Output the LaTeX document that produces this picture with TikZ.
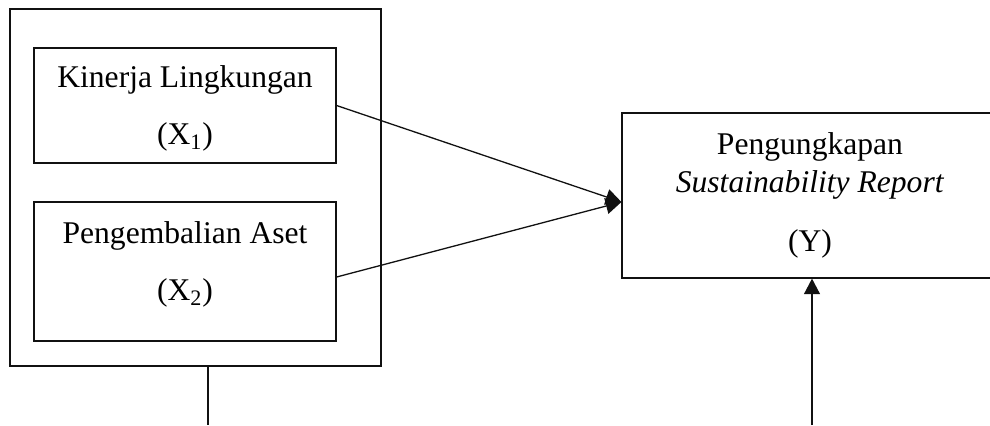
\documentclass[tikz,border=0pt]{standalone}
\usepackage{fontspec}
\setmainfont{Liberation Serif}
\usepackage{xcolor}
\definecolor{lineDark}{HTML}{111111}
\usepackage{tikz}
\usetikzlibrary{positioning,calc,arrows.meta}
\tikzset{%
  groupBox/.style={%
    rectangle,
    draw=lineDark,
    line width=1.3pt,
    minimum width=185.5pt,
    minimum height=178.5pt
  },
  varBox/.style={%
    rectangle,
    draw=lineDark,
    line width=0.6pt,
    align=center,
    inner sep=0pt,
    font=\fontsize{15.8}{19}\selectfont
  },
  arrowLine/.style={%
    -{Triangle[length=7.8pt,width=8pt]},
    line width=0.65pt,
    color=lineDark
  },
  plainLine/.style={%
    line width=0.65pt,
    color=lineDark
  }
}

\begin{document}
\begin{tikzpicture}[x=0.5pt,y=-0.5pt]
  \useasboundingbox (0,0) rectangle (990,425);

  \node[groupBox] (group) at (195.5,187.5) {};
  \node[varBox, minimum width=151pt, minimum height=57.5pt, text depth=0pt] (kinerja) at (185,105.5)
    {Kinerja Lingkungan\\[9.5pt](X\textsubscript{1})};
  \node[varBox, minimum width=151pt, minimum height=69.5pt, text depth=10.5pt] (aset) at (185,271.5)
    {Pengembalian Aset\\[9.5pt](X\textsubscript{2})};
  \node[varBox, minimum width=188pt, minimum height=82.5pt] (report) at (810,195.5)
    {Pengungkapan\\\textit{Sustainability Report}\\[10.5pt](Y)};

  \coordinate (meet) at ([yshift=-3.25pt]report.west);
  \coordinate (groupEnd) at ([xshift=6.25pt]group.south |- 0,425);
  \coordinate (reportEnd) at ([xshift=1pt]report.south |- 0,425);

  \draw[arrowLine] (kinerja.east) -- (meet);
  \draw[arrowLine] ([yshift=-2.75pt]aset.east) -- (meet);
  \draw[plainLine] ([xshift=6.25pt]group.south) -- (groupEnd);
  \draw[arrowLine] (reportEnd) -- ([xshift=1pt]report.south);
\end{tikzpicture}
\end{document}
